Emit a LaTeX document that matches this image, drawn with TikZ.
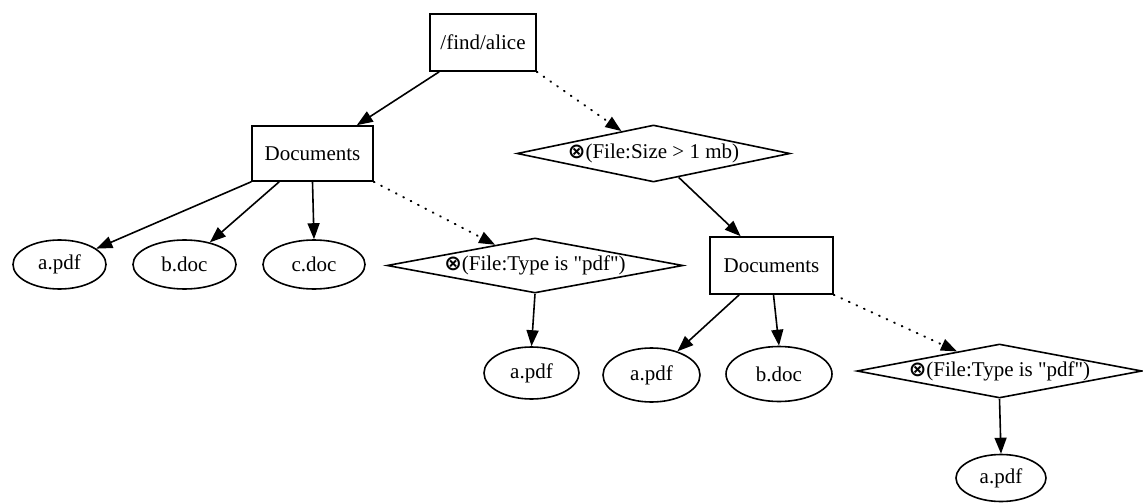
\documentclass[tikz,border=0pt]{standalone}
\usepackage{fontspec}
\setmainfont{Liberation Serif}[Ligatures=TeXOff]
\newfontfamily\symfont{DejaVu Sans}
\usetikzlibrary{shapes.geometric,arrows.meta,calc}
\newcommand{\filtsym}{{\symfont\bfseries\fontsize{21}{22}\selectfont ⊗}}
\begin{document}
\begin{tikzpicture}[x=1pt,y=-1pt,
  every node/.style={font=\fontsize{21}{24}\selectfont, line width=1.6pt, draw, inner sep=0pt},
  dirbox/.style={rectangle},
  filebox/.style={ellipse},
  filtbox/.style={diamond},
  edgeline/.style={line width=1.6pt, -{Triangle[length=16pt,width=12pt]}},
  dotline/.style={edgeline, line width=2pt, line cap=round, dash pattern=on 0.8pt off 7.5pt}]
\useasboundingbox (0,0) rectangle (1143,503);

% nodes
\node[dirbox, minimum width=106pt, minimum height=57pt] (root) at (483,42.5) {/find/alice};
\node[dirbox, minimum width=121pt, minimum height=55pt] (doc1) at (312.5,153.5) {Documents};
\node[filtbox, minimum width=273pt, minimum height=57pt, shape aspect=4.8] (sizeD) at (653.5,153.5) {\filtsym(File:Size > 1 mb)};

\node[filebox, minimum width=93pt, minimum height=49pt] (apdf1) at (59.5,264.5) {a.pdf};
\node[filebox, minimum width=103pt, minimum height=49pt] (bdoc1) at (184.5,264.5) {b.doc};
\node[filebox, minimum width=102pt, minimum height=49pt] (cdoc1) at (314,264.5) {c.doc};
\node[filtbox, minimum width=296pt, minimum height=55pt, shape aspect=5.38] (typeD1) at (535,265.5) {\filtsym(File:Type is "pdf")};
\node[dirbox, minimum width=123pt, minimum height=57pt] (doc2) at (771.5,265.5) {Documents};

\node[filebox, minimum width=95pt, minimum height=52pt] (apdf2) at (531.5,373) {a.pdf};
\node[filebox, minimum width=97pt, minimum height=54pt] (apdf3) at (651.5,375) {a.pdf};
\node[filebox, minimum width=106pt, minimum height=55pt] (bdoc2) at (779,374) {b.doc};
\node[filtbox, minimum width=285pt, minimum height=54pt, shape aspect=5.3] (typeD3) at (999.5,371) {\filtsym(File:Type is "pdf")};

\node[filebox, minimum width=90pt, minimum height=47pt] (apdf4) at (1001,478) {a.pdf};

% edges
\draw[edgeline] ([xshift=10pt]root.south west) -- ([xshift=-17pt]doc1.north east);
\draw[dotline] (root.south east) -- (sizeD);
\draw[edgeline] (doc1.south west) -- (apdf1);
\draw[edgeline] ([xshift=28pt]doc1.south west) -- (bdoc1);
\draw[edgeline] (doc1.south) -- (cdoc1.north);
\draw[dotline] (doc1.south east) -- (typeD1);
\draw[edgeline] (typeD1.south) -- (apdf2.north);
\draw[edgeline] (sizeD) -- (doc2);
\draw[edgeline] ([xshift=30pt]doc2.south west) -- (apdf3);
\draw[edgeline] ([xshift=2pt]doc2.south) -- (bdoc2.north);
\draw[dotline] (doc2.south east) -- (typeD3);
\draw[edgeline] (typeD3.south) -- (apdf4.north);
\end{tikzpicture}
\end{document}
